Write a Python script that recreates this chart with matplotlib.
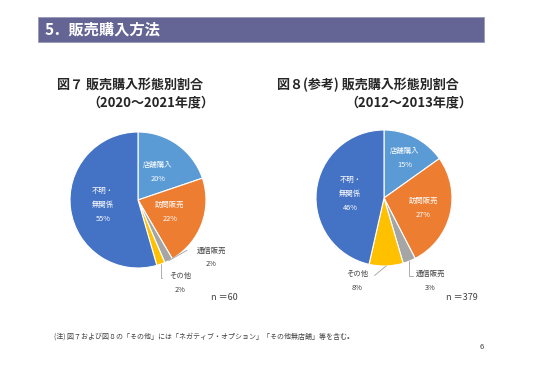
import matplotlib
matplotlib.use("Agg")
import matplotlib.pyplot as plt
import numpy as np
from matplotlib.patches import Rectangle

plt.rcParams['font.family'] = ['Noto Sans CJK JP', 'DejaVu Sans']

W, H = 540, 381

# ---- data ----
categories = ['店舗購入', '訪問販売', '通信販売', 'その他', '不明・\n無関係']
values_2020 = [20, 22, 2, 2, 55]
values_2012 = [15, 27, 3, 8, 46]
colors = ['#5B9BD5', '#ED7D31', '#A5A5A5', '#FFC000', '#4472C4']
title_2020 = ['図７ 販売購入形態別割合', '（2020～2021年度）']
title_2012 = ['図８(参考) 販売購入形態別割合', '（2012～2013年度）']
n_2020 = 'n ＝60'
n_2012 = 'n ＝379'
header = '5．販売購入方法'
note = '(注) 図７および図８の「その他」には「ネガティブ・オプション」「その他無店舗」等を含む。'
page = '6'

fig = plt.figure(figsize=(W / 100, H / 100), dpi=100)
fig.patch.set_facecolor('white')


def fx(x):
    return x / W


def fy(y):
    return 1 - y / H


# header bar
fig.patches.append(Rectangle((fx(38), fy(42)), fx(484) - fx(38), fy(17) - fy(42),
                             transform=fig.transFigure, facecolor='#646495',
                             edgecolor='#9a9ab8', lw=0.6))
fig.text(fx(45), fy(30), header, color='white', fontsize=11, fontweight='bold',
         va='center', ha='left')


def draw_pie(cx, cy, r, values, inner_r, out_specs):
    ax = fig.add_axes([fx(cx - r), fy(cy + r), 2 * r / W, 2 * r / H])
    wedges, _ = ax.pie(values, colors=colors, startangle=90, counterclock=False,
                       wedgeprops=dict(edgecolor='white', linewidth=0.8))
    ax.set_xlim(-1, 1)
    ax.set_ylim(-1, 1)
    ax.set_aspect('equal')
    ax.axis('off')
    for i, w in enumerate(wedges):
        mid = np.deg2rad((w.theta1 + w.theta2) / 2)
        lab = f'{categories[i]}\n{values[i]}%'
        if i in out_specs:
            tx, ty, style = out_specs[i]
            ex, ey = np.cos(mid), np.sin(mid)
            ax.text(tx, ty, lab, ha='center', va='center', fontsize=5.3,
                    color='#404040', linespacing=1.9)
            if style == 'diag':
                ax.annotate('', xy=(ex * 1.0, ey * 1.0), xytext=(tx - 0.36, ty + 0.11),
                            arrowprops=dict(arrowstyle='-', color='#a0a0a0', lw=0.6,
                                            shrinkA=0, shrinkB=0))
            elif style == 'diagL':
                ax.annotate('', xy=(ex * 1.0, ey * 1.0), xytext=(tx + 0.25, ty + 0.08),
                            arrowprops=dict(arrowstyle='-', color='#a0a0a0', lw=0.6,
                                            shrinkA=0, shrinkB=0))
            else:
                ax.annotate('', xy=(ex * 1.0, ey * 1.0), xytext=(tx - 0.26, ty + 0.08),
                            arrowprops=dict(arrowstyle='-', color='#a0a0a0', lw=0.6,
                                            shrinkA=0, shrinkB=0,
                                            connectionstyle='angle,angleA=0,angleB=90'))
        else:
            ax.text(inner_r[i] * np.cos(mid), inner_r[i] * np.sin(mid), lab,
                    ha='center', va='center', fontsize=5.3, color='white',
                    linespacing=2.0)
    return ax


# left pie
draw_pie(138, 200, 68, values_2020, {0: 0.5, 1: 0.5, 4: 0.52},
         {2: (1.08, -0.85, 'diag'), 3: (0.62, -1.22, 'angle')})
# right pie
draw_pie(384, 198, 68, values_2012, {0: 0.66, 1: 0.6, 4: 0.5},
         {2: (0.68, -1.22, 'angle'), 3: (-0.39, -1.22, 'diagL')})

# titles
tkw = dict(fontsize=9.4, fontweight='bold', color='#262626', ha='left', va='center')
fig.text(fx(57), fy(85), title_2020[0], **tkw)
fig.text(fx(87), fy(102), title_2020[1], **tkw)
fig.text(fx(277), fy(85), title_2012[0], **tkw)
fig.text(fx(345), fy(102), title_2012[1], **tkw)

fig.text(fx(238), fy(298), n_2020, fontsize=6.5, color='#404040', ha='right', va='center')
fig.text(fx(478), fy(298), n_2012, fontsize=6.5, color='#404040', ha='right', va='center')

fig.text(fx(54), fy(337), note, fontsize=5.0, color='#404040', ha='left', va='center')
fig.text(fx(482), fy(347), page, fontsize=5.5, color='#404040', ha='center', va='center')

fig.savefig('out.png', dpi=100, facecolor='white')
